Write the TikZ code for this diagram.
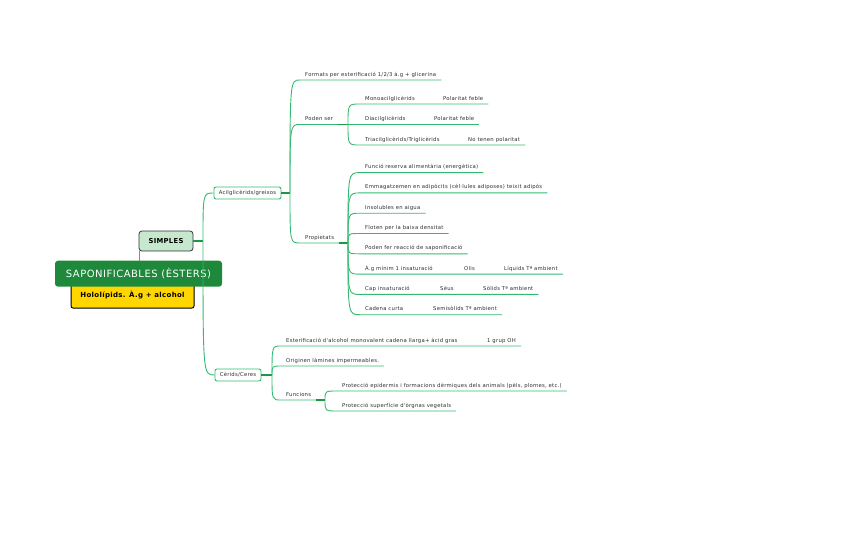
\documentclass[tikz,border=0pt]{standalone}
\usepackage{fontspec}
\setmainfont{DejaVu Sans}
\newfontfamily\mapfont[LetterSpace=4.5]{DejaVu Sans}
\newfontfamily\rootfont[LetterSpace=5]{DejaVu Sans}
\usepackage{tikz}
\definecolor{BranchGreen}{RGB}{52,186,112}
\definecolor{JoinGreen}{RGB}{30,150,70}
\definecolor{RootGreen}{RGB}{30,137,58}
\definecolor{PaleGreen}{RGB}{198,232,206}
\definecolor{TopicYellow}{RGB}{255,214,0}
\definecolor{TextGrey}{RGB}{45,45,45}
\tikzset{
    branch/.style={BranchGreen, line width=0.9pt},
    joint/.style={JoinGreen, line width=1.1pt},
    topic/.style={anchor=south west, inner xsep=5pt, inner ysep=2.5pt, text height=3.9pt, text depth=1.3pt, font=\mapfont\fontsize{5.3}{6}\selectfont, text=TextGrey},
    boxtopic/.style={draw=BranchGreen, line width=0.9pt, rounded corners=2pt, fill=white, inner sep=0pt, minimum height=12pt, font=\mapfont\fontsize{5.3}{6}\selectfont, text=TextGrey}
}

\begin{document}
\begin{tikzpicture}[x=1pt, y=-1pt]
    \useasboundingbox (0,0) rectangle (848,546);
    % Central topic
    \node[draw=black, line width=1pt, fill=TopicYellow, rounded corners=2pt, minimum width=123pt, minimum height=26pt, inner sep=0pt, font=\mapfont\bfseries\fontsize{7}{8}\selectfont] (holo) at (132.5,295) {Hololípids. À.g + alcohol};
    \node[fill=RootGreen, rounded corners=3pt, minimum width=167pt, minimum height=26pt, inner sep=0pt, text=white, font=\rootfont\fontsize{10}{11}\selectfont] (root) at (138.5,273.7) {SAPONIFICABLES (ÈSTERS)};
    \node[draw=black!80, line width=0.8pt, fill=PaleGreen, rounded corners=3pt, minimum width=54pt, minimum height=20pt, inner sep=0pt, font=\mapfont\bfseries\fontsize{6.8}{8}\selectfont] (simples) at (166,241) {SIMPLES};
    \coordinate (s0) at ([xshift=1pt]simples.south west);
    \draw[branch] (s0) -- (s0 |- root.north);
    % Main branches
    \node[boxtopic, minimum width=67pt] (acil) at (247.5,193) {Acilglicèrids/greixos};
    \node[boxtopic, minimum width=46pt] (cerids) at (238,375) {Cèrids/Ceres};
    \coordinate (j0) at (203,241);
    \draw[joint] (simples.east) -- (j0);
    \draw[branch] (j0) .. controls (j0 |- acil.west) .. (acil.west);
    \draw[branch] (j0) .. controls (j0 |- cerids.west) .. (cerids.west);
    % Acilglicerids
    \coordinate (j1) at (290,193);
    \draw[joint] (acil.east) -- (j1);
    \node[topic] (formats) at (300,80) {Formats per esterificació 1/2/3 à.g + glicerina};
    \node[topic] (poden) at (300,124.5) {Poden ser};
    \node[topic] (prop) at (300,243) {Propietats};
    \foreach \n in {formats,poden,prop} {
        \draw[branch] (j1) .. controls (j1 |- \n.south west) .. (\n.south west) -- (\n.south east);
    }
    \coordinate (j2) at (348,124.5);
    \draw[joint] (poden.south east) -- (j2);
    \foreach \n/\y/\t in {mono/104/{\makebox[78pt][l]{Monoacilglicèrids}Polaritat feble},
                         di/124.5/{\makebox[69pt][l]{Diacilglicèrids}Polaritat feble},
                         tri/145/{\makebox[103pt][l]{Triacilglicèrids/Triglicèrids}No tenen polaritat}} {
        \node[topic] (\n) at (360,\y) {\t};
        \draw[branch] (j2) .. controls (j2 |- \n.south west) .. (\n.south west) -- (\n.south east);
    }
    \coordinate (j3) at (348,243);
    \draw[joint] (prop.south east) -- (j3);
    \foreach \n/\y/\t in {fun/172.6/{Funció reserva alimentària (energètica)},
                         emma/192.9/{Emmagatzemen en adipòcits (cèl·lules adiposes) teixit adipós},
                         insol/213.2/{Insolubles en aigua},
                         flot/233.5/{Floten per la baixa densitat},
                         sapo/253.8/{Poden fer reacció de saponificació},
                         agm/274.1/{\makebox[99pt][l]{À.g mínim 1 insaturació}\makebox[40pt][l]{Olis}Líquids Tª ambient},
                         cap/294.4/{\makebox[75pt][l]{Cap insaturació}\makebox[43pt][l]{Sèus}Sòlids Tª ambient},
                         cad/314.7/{\makebox[68pt][l]{Cadena curta}Semisòlids Tª ambient}} {
        \node[topic] (\n) at (360,\y) {\t};
        \draw[branch] (j3) .. controls (j3 |- \n.south west) .. (\n.south west) -- (\n.south east);
    }
    % Cerids
    \coordinate (j4) at (272,375);
    \draw[joint] (cerids.east) -- (j4);
    \node[topic] (ester) at (281,346) {\makebox[201pt][l]{Esterificació d'alcohol monovalent cadena llarga+ àcid gras}1 grup OH};
    \node[topic] (orig) at (281,366) {Originen làmines impermeables.};
    \node[topic] (func) at (281,400) {Funcions};
    \foreach \n in {ester,orig,func} {
        \draw[branch] (j4) .. controls (j4 |- \n.south west) .. (\n.south west) -- (\n.south east);
    }
    \coordinate (j5) at (325,400);
    \draw[joint] (func.south east) -- (j5);
    \node[topic] (pe) at (337,391) {Protecció epidermis i formacions dèrmiques dels animals (pèls, plomes, etc.)};
    \node[topic] (ps) at (337,411) {Protecció superfície d'òrgnas vegetals};
    \foreach \n in {pe,ps} {
        \draw[branch] (j5) .. controls (j5 |- \n.south west) .. (\n.south west) -- (\n.south east);
    }
\end{tikzpicture}
\end{document}
